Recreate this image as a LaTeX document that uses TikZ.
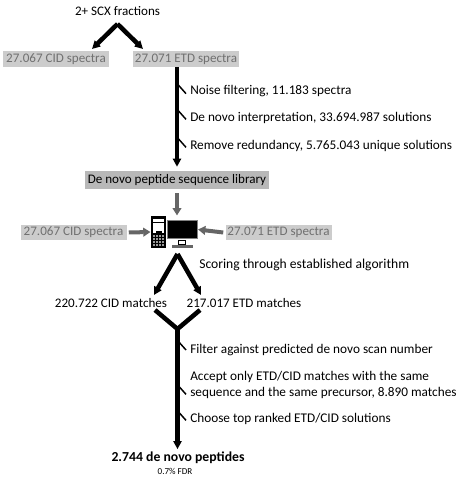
\documentclass[tikz,border=0pt]{standalone}
\usepackage{xcolor}
\usepackage{fontspec}
\setmainfont{Carlito}
\usepackage{tikz}
\usetikzlibrary{arrows.meta}
\definecolor{boxlight}{HTML}{CCCCCC}
\definecolor{boxdark}{HTML}{B8B8B8}
\definecolor{textgray}{HTML}{707070}
\definecolor{arrowgray}{HTML}{666666}
\tikzset{
    steplabel/.style={inner sep=0pt, anchor=west, font=\fontsize{9.95pt}{11.4pt}\selectfont, align=left},
    plainlabel/.style={inner sep=0pt, font=\fontsize{9.8pt}{11pt}\selectfont},
    spectra/.style={fill=boxlight, text=textgray, inner sep=0pt, minimum width=79.5pt, minimum height=11.5pt, font=\fontsize{9.8pt}{11pt}\selectfont},
    flow/.style={line width=3.4pt, -{Triangle[length=6pt,width=6pt]}, black},
    mergeline/.style={line width=3.4pt, black},
    feed/.style={line width=3pt, -{Triangle[length=5.5pt,width=6.5pt]}, arrowgray},
    stepmark/.style={line width=1.1pt, black}
}
\begin{document}
\begin{tikzpicture}[x=0.75pt, y=-0.75pt]
        \useasboundingbox (0,0) rectangle (460,478);

        \node[plainlabel] at (117.5, 11) (fractions) {2+ SCX fractions};
        \node[spectra] at (56, 59) (cid1) {27.067 CID spectra};
        \node[spectra] at (186, 59) (etd1) {27.071 ETD spectra};
        \node[plainlabel, fill=boxdark, minimum width=138pt, minimum height=13.5pt] at (177, 180) (library) {De novo peptide sequence library};
        \node[spectra] at (73.5, 232.5) (cid2) {27.067 CID spectra};
        \node[spectra] at (278.5, 232.5) (etd2) {27.071 ETD spectra};

        \node[steplabel] at (190, 91) (noise) {Noise filtering, 11.183 spectra};
        \node[steplabel] at (190, 118) (denovo) {De novo interpretation, 33.694.987 solutions};
        \node[steplabel] at (190, 146) (redundancy) {Remove redundancy, 5.765.043 unique solutions};
        \node[steplabel, font=\fontsize{10.2pt}{11pt}\selectfont] at (199, 265) (scoring) {Scoring through established algorithm};

        \node[plainlabel] at (111, 303) (cidmatch) {220.722 CID matches};
        \node[plainlabel] at (244, 303) (etdmatch) {217.017 ETD matches};

        \node[steplabel] at (190, 350) (filter) {Filter against predicted de novo scan number};
        \node[steplabel] at (190, 385) (accept) {Accept only ETD/CID matches with the same\\sequence and the same precursor, 8.890 matches};
        \node[steplabel] at (190, 419) (choose) {Choose top ranked ETD/CID solutions};

        \node[plainlabel, font=\fontsize{10.3pt}{11pt}\selectfont\bfseries] at (178, 458) (peptides) {2.744 de novo peptides};
        \node[plainlabel, font=\fontsize{6.8pt}{8pt}\selectfont] at (175, 471) (fdr) {0.7\% FDR};

        \node[fill=black, inner sep=0pt, minimum width=11.5pt, minimum height=24.5pt] at (158.5, 232) (tower) {};
        \node[fill=white, inner sep=0pt, minimum width=8pt, minimum height=2.5pt] at (158.5, 220.5) (drive) {};
        \node[fill=white, inner sep=0pt, minimum width=8pt, minimum height=7pt] at (158.5, 228) (panel) {};
        \node[fill=black, inner sep=0pt, minimum width=4pt, minimum height=1.5pt] at (159, 231.5) (slot) {};
        \foreach \row in {236, 239, 242, 245}
            \foreach \col in {154, 157, 160, 163}
                \node[fill=white!60!black, inner sep=0pt, minimum size=1.4pt] at (\col, \row) (key\row\col) {};
        \node[draw=black!50, fill=black, line width=0.8pt, inner sep=0pt, minimum width=22.5pt, minimum height=13pt] at (182.5, 229.5) (monitor) {};
        \node[draw=black, fill=white, line width=0.7pt, inner sep=0pt, minimum width=5pt, minimum height=3pt] at (182, 242) (stand) {};
        \node[fill=black!60, inner sep=0pt, minimum width=16pt, minimum height=2pt] at (182.5, 246.5) (base) {};

        \coordinate (splittop) at (117.5, 24);
        \coordinate (splitleft) at (92, 49);
        \coordinate (splitright) at (143, 49);
        \coordinate (scoretop) at (177.5, 254);
        \coordinate (scoreleft) at (154, 295);
        \coordinate (scoreright) at (201, 295);
        \coordinate (mergeleft) at (155, 310);
        \coordinate (mergeright) at (200, 310);
        \coordinate (merge) at (177.5, 329);

        \draw[flow] (splittop) -- (splitleft);
        \draw[flow] (splittop) -- (splitright);
        \draw[flow, shorten >=3pt] (library |- etd1.south) -- (library.north);
        \draw[feed] (library.south) ++(0,4) -- (tower.north -| library);
        \draw[feed] (cid2.east) ++(2,0) -- (tower.west);
        \draw[feed] (etd2.west) ++(-2,0) -- (monitor.east);
        \draw[flow] (scoretop) -- (scoreleft);
        \draw[flow] (scoretop) -- (scoreright);
        \draw[mergeline] (mergeleft) -- (merge);
        \draw[mergeline] (mergeright) -- (merge);
        \draw[flow, shorten >=2pt] (merge) -- (merge |- peptides.north);

        \foreach \marked/\ys in {noise/-2, denovo/-1, redundancy/-1, filter/0, choose/-1}
            \draw[stepmark] ([xshift=-3, yshift=\ys]\marked.west) -- ++(-8,-9);
        \draw[stepmark] ([xshift=-3, yshift=-7]accept.west) -- ++(-8,-9);
    \end{tikzpicture}
\end{document}
